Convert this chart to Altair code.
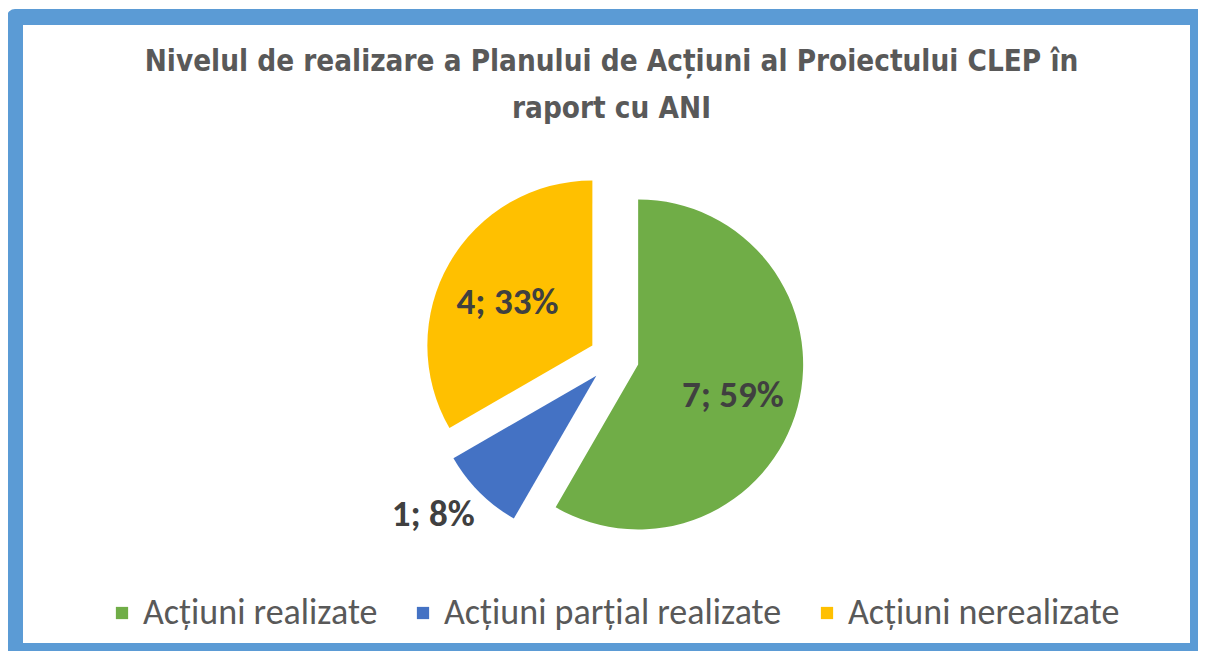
import altair as alt
import pandas as pd

# ---- data ----
categories = ["Acțiuni realizate", "Acțiuni parțial realizate", "Acțiuni nerealizate"]
values = [7, 1, 4]
labels = ["7; 59%", "1; 8%", "4; 33%"]
colors = ["#70AD47", "#4472C4", "#FFC000"]
title_lines = ["Nivelul de realizare a Planului de Acțiuni al Proiectului CLEP în", "raport cu ANI"]

df = pd.DataFrame({
    "idx": list(range(len(categories))),
    "category": categories,
    "value": values,
    "label": labels,
})

# ---- layout / style ----
PAD_L, PAD_T = 7, 9
W, H = 1190 - PAD_L, 643 - PAD_T
CX, CY = W / 2 + 7.5, H / 2 + 24
RADIUS = 165
EXPLODE = 25
R_IN, R_OUT = 98, 172
LABEL_FONT = "Carlito, Calibri, Lato, sans-serif"

base = alt.Chart(df).transform_joinaggregate(
    total="sum(value)"
).transform_window(
    cum="sum(value)", sort=[alt.SortField("idx")], frame=[None, 0]
).transform_calculate(
    start="(datum.cum - datum.value) / datum.total * 2 * PI",
    end="datum.cum / datum.total * 2 * PI",
).transform_calculate(
    mid="(datum.start + datum.end) / 2",
    share="datum.value / datum.total",
).transform_calculate(
    ex=f"{CX} + {EXPLODE} * sin(datum.mid)",
    ey=f"{CY} - {EXPLODE} * cos(datum.mid)",
    lr=f"datum.share < 0.1 ? {R_OUT} : {R_IN}",
).transform_calculate(
    lx="datum.ex + datum.lr * sin(datum.mid)",
    ly="datum.ey - datum.lr * cos(datum.mid)",
)

arcs = base.mark_arc(radius=RADIUS).encode(
    theta=alt.Theta("start:Q", scale=None),
    theta2="end:Q",
    x=alt.X("ex:Q", scale=None, axis=None),
    y=alt.Y("ey:Q", scale=None, axis=None),
    color=alt.Color(
        "category:N",
        scale=alt.Scale(domain=categories, range=colors),
        sort=categories,
        legend=alt.Legend(
            orient="none",
            legendX=89,
            legendY=578,
            direction="horizontal",
            title=None,
            symbolType="square",
            symbolSize=150,
            symbolStrokeWidth=0,
            labelFont=LABEL_FONT,
            labelFontSize=36,
            labelColor="#595959",
            labelOffset=3,
            columnPadding=27,
            labelLimit=600,
        ),
    ),
)

text_style = dict(font=LABEL_FONT, fontSize=37, fontWeight="bold", color="#404040")
text_enc = dict(
    x=alt.X("lx:Q", scale=None, axis=None),
    y=alt.Y("ly:Q", scale=None, axis=None),
    text="label:N",
)

texts_in = base.transform_filter("datum.share >= 0.1").mark_text(
    align="center", baseline="middle", dy=6, **text_style
).encode(**text_enc)

texts_out = base.transform_filter("datum.share < 0.1").mark_text(
    align="right", baseline="top", **text_style
).encode(**text_enc)

chart = alt.layer(arcs, texts_in, texts_out).properties(
    width=W,
    height=H,
    title=alt.Title(
        text=title_lines,
        anchor="middle",
        frame="group",
        font="Liberation Sans Narrow, DejaVu Sans Condensed, sans-serif",
        fontSize=29.4,
        fontWeight="bold",
        color="#595959",
        lineHeight=47,
        offset=-107,
        dx=5,
    ),
    autosize=alt.AutoSizeParams(type="none"),
    padding={"left": PAD_L, "top": PAD_T, "right": 0, "bottom": 0},
    background="white",
).configure_view(
    stroke="#5B9BD5", strokeWidth=16, strokeJoin="round", fill="white"
)

chart.save("out.html", embed_options={"renderer": "svg", "actions": False})
